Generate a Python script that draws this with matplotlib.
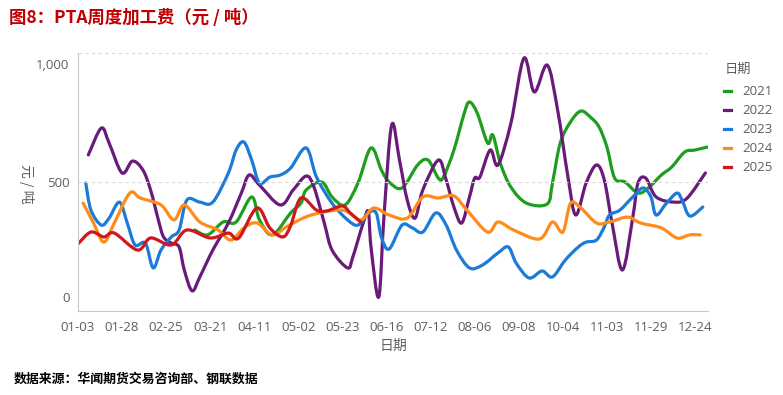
import matplotlib
matplotlib.use("Agg")
import matplotlib.pyplot as plt
import matplotlib.transforms as mtransforms
from matplotlib.path import Path
from matplotlib.patches import PathPatch
from matplotlib.lines import Line2D
import numpy as np

plt.rcParams['font.family'] = ['Open Sans', 'Noto Sans CJK SC', 'DejaVu Sans']

# x categories: trading-day index, one label every 17 days
tick_labels = ['01-03', '01-28', '02-25', '03-21', '04-11', '05-02', '05-23', '06-16',
               '07-12', '08-06', '09-08', '10-04', '11-03', '11-29', '12-24']
years = ['2021', '2022', '2023', '2024', '2025']

x_2021 = [45, 50, 56, 61, 67, 70, 75, 82, 86, 88, 94, 98, 103, 108, 113, 117, 120, 125,
          131, 135, 139, 141, 145, 149, 151, 154, 158, 160, 163, 167, 173, 181, 183, 186,
          190, 194, 198, 201, 204, 207, 211, 216, 220, 225, 229, 234, 238, 243]
y_2021 = [314, 295, 345, 345, 442, 353, 295, 380, 418, 469, 500, 442, 411, 496, 632, 547, 500, 477,
          566, 585, 515, 520, 624, 767, 810, 767, 651, 682, 570, 480, 418, 415, 496, 651,
          733, 775, 748, 713, 636, 515, 500, 457, 477, 527, 558, 616, 624, 636]

x_2022 = [4, 9, 12, 17, 21, 25, 28, 31, 33, 36, 39, 41, 44, 47, 52, 58, 63, 66, 70, 78,
          83, 88, 91, 95, 98, 104, 106, 110, 112, 113, 116, 118, 121, 124, 127, 130, 133,
          139, 142, 145, 148, 151, 153, 155, 159, 162, 167, 172, 176, 181, 185, 189, 192,
          196, 200, 203, 206, 210, 214, 216, 219, 223, 230, 235, 242]
y_2022 = [605, 709, 651, 535, 581, 547, 469, 353, 287, 263, 248, 159, 78, 132, 236, 341, 457, 527, 488, 411,
          469, 523, 481, 341, 236, 167, 209, 341, 385, 250, 54, 364, 721, 585, 430, 360, 469,
          585, 508, 403, 341, 442, 515, 519, 624, 566, 729, 980, 849, 953, 779, 519, 372,
          496, 566, 508, 341, 159, 364, 496, 515, 442, 422, 438, 535]

x_2023 = [3, 5, 9, 12, 16, 19, 22, 26, 29, 32, 36, 39, 42, 47, 52, 58, 61, 64, 67, 70,
          74, 78, 82, 88, 92, 98, 104, 108, 112, 115, 117, 120, 125, 129, 133, 138, 142,
          146, 151, 156, 162, 166, 169, 174, 179, 183, 188, 193, 196, 200, 203, 205, 209,
          214, 218, 221, 223, 227, 231, 233, 236, 241]
y_2023 = [496, 391, 333, 360, 422, 341, 256, 263, 167, 236, 287, 314, 430, 422, 422, 535, 624, 655, 585, 496,
          519, 527, 554, 632, 519, 418, 353, 333, 380, 380, 287, 240, 333, 322, 306, 380, 333,
          236, 167, 178, 225, 248, 186, 128, 155, 132, 198, 248, 267, 275, 326, 372, 391,
          442, 477, 442, 372, 418, 457, 430, 368, 403]

x_2024 = [2, 6, 10, 14, 20, 24, 32, 37, 41, 47, 54, 59, 64, 69, 75, 81, 90, 102, 109,
          114, 120, 127, 133, 139, 145, 150, 158, 162, 168, 178, 183, 187, 190, 194, 200,
          205, 212, 217, 225, 231, 236, 240]
y_2024 = [418, 341, 267, 341, 457, 438, 411, 353, 411, 345, 314, 275, 322, 341, 295, 330, 372, 391, 353,
          399, 372, 360, 442, 438, 446, 391, 306, 345, 314, 279, 345, 306, 418, 399, 341,
          345, 364, 341, 322, 283, 295, 295]

x_2025 = [0, 5, 10, 14, 23, 28, 36, 42, 51, 58, 62, 69, 74, 79, 82, 86, 92, 96, 102, 105, 109]
y_2025 = [260, 306, 287, 302, 236, 283, 256, 314, 283, 302, 283, 399, 322, 287, 330, 438, 391, 388, 407, 380, 345]

colors = ['#1E9E1E', '#6A1B7A', '#1C7BD8', '#FF8C1A', '#D0171B']
series = [(x_2021, y_2021), (x_2022, y_2022), (x_2023, y_2023), (x_2024, y_2024), (x_2025, y_2025)]


def smooth_path(xs, ys):
    # bezier path through the points (smooth line style)
    p = np.column_stack([xs, ys]).astype(float)
    n = len(p)
    verts = [p[0]]
    codes = [Path.MOVETO]
    for i in range(n - 1):
        p0 = p[max(i - 1, 0)]
        p1 = p[i]
        p2 = p[i + 1]
        p3 = p[min(i + 2, n - 1)]
        c1 = p1 + (p2 - p0) / 6.0
        c2 = p2 - (p3 - p1) / 6.0
        verts += [c1, c2, p2]
        codes += [Path.CURVE4] * 3
    return Path(verts, codes)


fig = plt.figure(figsize=(7.83, 3.95), dpi=100)
ax = fig.add_axes([0.0996, 0.2127, 0.8046, 0.6531])

handles = []
for (xs, ys), c, lab in zip(series, colors, years):
    ax.add_patch(PathPatch(smooth_path(xs, ys), fc='none', ec=c, lw=2.3,
                           joinstyle='round', capstyle='round'))
    handles.append(Line2D([], [], color=c, lw=2.3, label=lab))

gray = '#605E5C'
ax.set_xlim(0, 243)
ax.set_ylim(0, 1000)
ax.set_xticks(np.arange(len(tick_labels)) * 17)
ax.set_xticklabels(tick_labels)
ax.set_yticks([0, 500, 1000])
ax.set_yticklabels(['0', '500', '1,000'])
ax.tick_params(length=0, colors=gray, labelsize=9.5)
ax.tick_params(axis='x', pad=7)
ax.tick_params(axis='y', pad=6)
ax.grid(axis='y', color='#DADADA', ls=(0, (3, 3)), lw=0.8)
for s in ['top', 'right']:
    ax.spines[s].set_visible(False)
for s in ['left', 'bottom']:
    ax.spines[s].set_color('#C8C8C8')
    ax.spines[s].set_linewidth(0.8)

# keep edge labels inside the plot like the original
yt = ax.yaxis.get_major_ticks()
yt[0].label1.set_transform(yt[0].label1.get_transform() +
                           mtransforms.ScaledTranslation(0, 0.14, fig.dpi_scale_trans))
yt[2].label1.set_transform(yt[2].label1.get_transform() +
                           mtransforms.ScaledTranslation(0, -0.11, fig.dpi_scale_trans))

ax.set_xlabel('日期', color=gray, fontsize=10, labelpad=4,
              family=['Noto Sans CJK SC', 'DejaVu Sans'])
fig.text(0.034, 0.534, '元 / 吨', rotation=-90, color=gray, fontsize=10,
         ha='center', va='center', family=['Noto Sans CJK SC', 'DejaVu Sans'])

leg = fig.legend(handles=handles, loc='upper left', bbox_to_anchor=(0.918, 0.797), frameon=False,
                 handlelength=0.55, handletextpad=0.8, labelspacing=0.45, fontsize=9.5,
                 borderaxespad=0)
for t in leg.get_texts():
    t.set_color(gray)
fig.text(0.926, 0.825, '日期', color=gray, fontsize=9.5, ha='left', va='center',
         family=['Noto Sans CJK SC', 'DejaVu Sans'])

fig.text(0.012, 0.955, '图8：PTA周度加工费（元 / 吨）', color='#C00000', fontsize=12.5,
         fontweight='bold', ha='left', va='center', family=['Noto Sans CJK SC', 'DejaVu Sans'])
fig.text(0.018, 0.04, '数据来源：华闻期货交易咨询部、钢联数据', color='black', fontsize=9.3,
         fontweight='bold', ha='left', va='center', family=['Noto Sans CJK SC', 'DejaVu Sans'])

fig.savefig('out.png', dpi=100)
